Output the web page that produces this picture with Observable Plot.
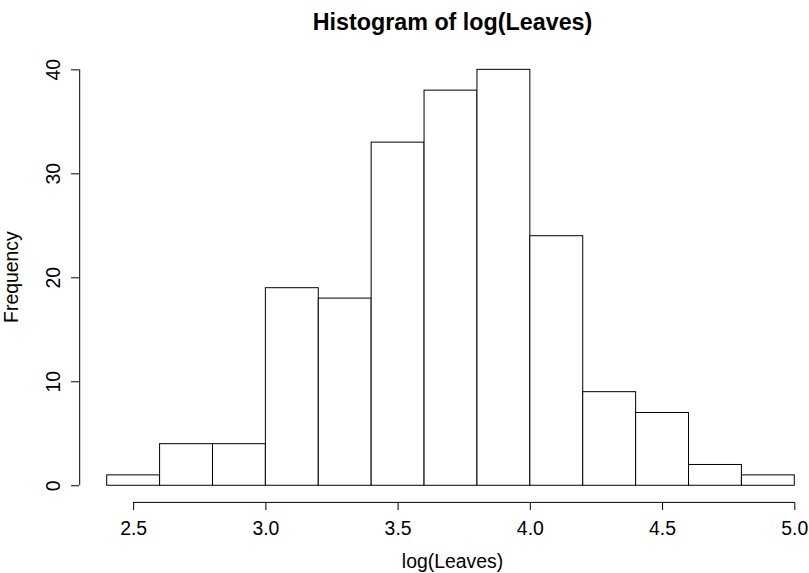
<!DOCTYPE html>
<html><head><meta charset="utf-8">
<script src="https://cdn.jsdelivr.net/npm/d3@7"></script>
<script src="https://cdn.jsdelivr.net/npm/@observablehq/plot@0.6"></script>
<style>body{margin:0;background:#fff} svg{display:block}</style>
</head><body><div id="chart"></div>
<script>
const binStarts = [2.4, 2.6, 2.8, 3.0, 3.2, 3.4, 3.6, 3.8, 4.0, 4.2, 4.4, 4.6, 4.8];
const binEnds   = [2.6, 2.8, 3.0, 3.2, 3.4, 3.6, 3.8, 4.0, 4.2, 4.4, 4.6, 4.8, 5.0];
const counts    = [1, 4, 4, 19, 18, 33, 38, 40, 24, 9, 7, 2, 1];
const xTicks = [2.5, 3.0, 3.5, 4.0, 4.5, 5.0];
const yTicks = [0, 10, 20, 30, 40];
const title = "Histogram of log(Leaves)";
const xLabel = "log(Leaves)";
const yLabel = "Frequency";

const bins = binStarts.map((s, i) => ({x1: s, x2: binEnds[i], count: counts[i]}));
const xMin = d3.min(binStarts), xMax = d3.max(binEnds);
const yMax = d3.max(yTicks);
const xUsrLo = xMin - 0.04 * (xMax - xMin);
const yUsrLo = 0 - 0.04 * yMax;

const font = "'Liberation Sans', Arial, Helvetica, sans-serif";
const W = 809, H = 573;
const fs = 19.4;

const chart = Plot.plot({
  width: W, height: H,
  marginLeft: 79, marginRight: 0, marginTop: 0, marginBottom: 71,
  style: {fontFamily: font, background: "white", color: "black", overflow: "visible"},
  x: {domain: [xMin, xMax], range: [106.7, 794.3]},
  y: {domain: [yUsrLo, yMax + 0.04 * yMax], range: [501.9, 52.7]},
  marks: [
    Plot.rect(bins, {x1: "x1", x2: "x2", y1: 0, y2: "count", fill: "white", stroke: "black", strokeWidth: 1}),
    Plot.ruleX([xUsrLo], {y1: 0, y2: yMax, stroke: "black", strokeWidth: 1}),
    Plot.ruleY([yUsrLo], {x1: xTicks[0], x2: xTicks[xTicks.length - 1], stroke: "black", strokeWidth: 1}),
    Plot.axisX(xTicks, {tickSize: 8, tickPadding: 11, tickFormat: d3.format(".1f"), fontSize: fs, label: null, stroke: "black", strokeOpacity: 1, fill: "black"}),
    Plot.axisY(yTicks, {tickSize: 8, tickPadding: 12, tickRotate: -90, fontSize: fs, label: null, stroke: "black", strokeOpacity: 1, fill: "black"}),
    Plot.text([title], {frameAnchor: "top", dx: 8, dy: 22.5, fontSize: 23.3, fontWeight: "bold", lineAnchor: "middle", textAnchor: "middle", fill: "black"}),
    Plot.text([xLabel], {frameAnchor: "bottom", dx: 8, dy: 59, fontSize: fs, lineAnchor: "middle", textAnchor: "middle", fill: "black"}),
    Plot.text([yLabel], {frameAnchor: "left", dx: -68, dy: 25.6, rotate: -90, fontSize: fs, lineAnchor: "middle", textAnchor: "middle", fill: "black"})
  ]
});
document.getElementById("chart").appendChild(chart);
</script>
</body></html>
